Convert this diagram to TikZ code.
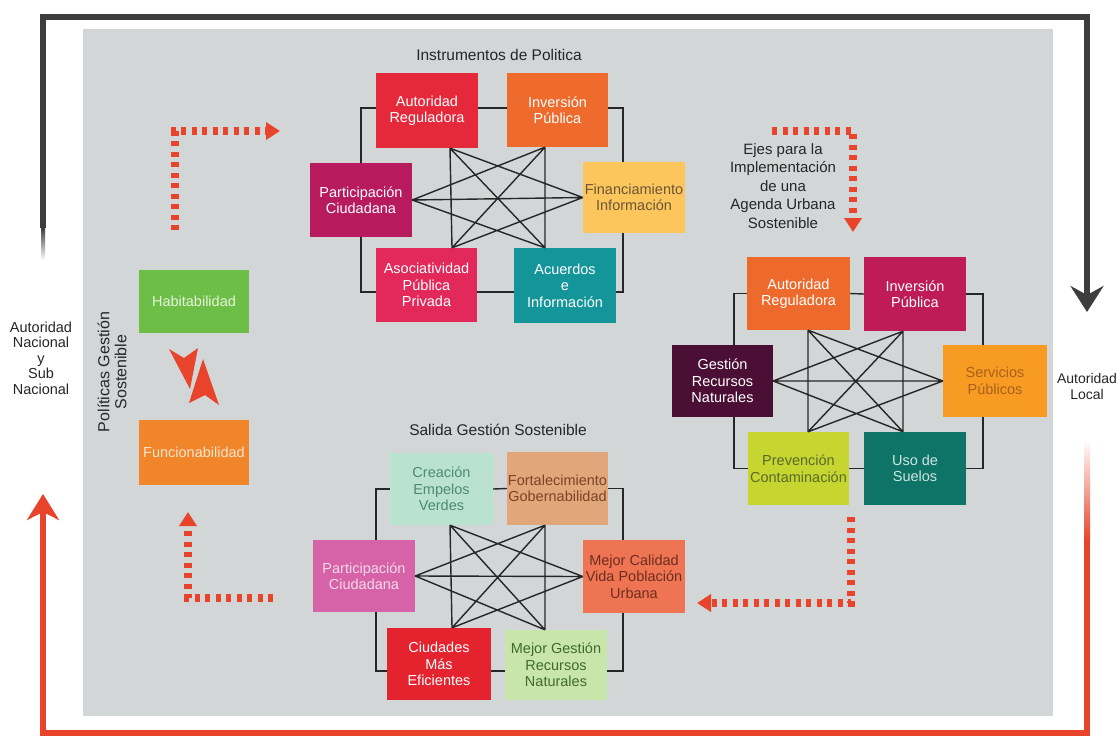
\documentclass[tikz,border=0pt]{standalone}
\usepackage{fontspec}
\setmainfont{Liberation Sans}
\usetikzlibrary{arrows.meta}
\definecolor{panel}{HTML}{D3D6D7}
\definecolor{darkf}{HTML}{3D3D3D}
\definecolor{arrred}{HTML}{E8442B}
\definecolor{cTa}{HTML}{E5283A}
\definecolor{cTb}{HTML}{EE6B2D}
\definecolor{cTc}{HTML}{B71B5E}
\definecolor{cTd}{HTML}{FCC65C}
\definecolor{cTe}{HTML}{E3285A}
\definecolor{cTf}{HTML}{14959A}
\definecolor{cRa}{HTML}{EE6A2C}
\definecolor{cRb}{HTML}{BF1B56}
\definecolor{cRc}{HTML}{4B0F35}
\definecolor{cRd}{HTML}{F89B23}
\definecolor{cRe}{HTML}{C6D530}
\definecolor{cRf}{HTML}{0E7468}
\definecolor{cBa}{HTML}{B9E3D0}
\definecolor{cBb}{HTML}{E2A67B}
\definecolor{cBc}{HTML}{D662A8}
\definecolor{cBd}{HTML}{EF7453}
\definecolor{cBe}{HTML}{E4232F}
\definecolor{cBf}{HTML}{C8E6A9}
\definecolor{cHab}{HTML}{6DBE46}
\definecolor{cFun}{HTML}{F0852A}
\definecolor{xTd}{HTML}{6A5638}
\definecolor{xRd}{HTML}{A8601C}
\definecolor{xRe}{HTML}{5C6A2A}
\definecolor{xRf}{HTML}{CFE5E1}
\definecolor{xBa}{HTML}{4E8A72}
\definecolor{xBb}{HTML}{7A4524}
\definecolor{xBc}{HTML}{F5D8EA}
\definecolor{xBd}{HTML}{6E2E1E}
\definecolor{xBf}{HTML}{3F6B2C}
\definecolor{xHab}{HTML}{E6F3DC}
\definecolor{xFun}{HTML}{FCE4CF}
\newcommand\mystar[6]{%
  \draw[conn] (#1)--(#5) (#2)--(#6) (#3)--(#4) (#1)--(#6) (#2)--(#5)
              (#3)--(#2) (#3)--(#6) (#4)--(#1) (#4)--(#5);}
\begin{document}
\begin{tikzpicture}[x=1pt,y=-1pt,
  bx/.style={rectangle, inner sep=0pt, align=center, text=white,
             font=\fontsize{14.5}{16.5}\selectfont},
  sz/.style 2 args={minimum width=#1pt, minimum height=#2pt},
  conn/.style={draw=black!85, line width=1.4pt},
  ttl/.style={align=center, text=black!85, font=\fontsize{15.5}{18.5}\selectfont},
  dotarrow/.style={draw=arrred, line width=8pt, dash pattern=on 5pt off 5.5pt,
                   -{Triangle[width=17pt,length=14pt]}},
  kite/.style={fill=arrred},
]
\useasboundingbox (0,0) rectangle (1118,739);
\fill[white] (0,0) rectangle (1118,739);
\fill[panel] (83,29) rectangle (1053,716);

% ---------- outer frames ----------
\coordinate (dA) at (43,228);
\coordinate (dB) at (43,17);
\coordinate (dC) at (1087,17);
\coordinate (dD) at (1087,312);
\shade[top color=darkf, bottom color=white] (41,228) rectangle (45,260);
\draw[darkf, line width=5.5pt, line join=miter, -{Stealth[width=33pt,length=26pt,inset=9pt]}]
  (dA) -- (dB) -- (dC) -- (dD);

\coordinate (rA) at (1087,540);
\coordinate (rB) at (1087,733);
\coordinate (rC) at (43,733);
\coordinate (rD) at (43,494);
\shade[top color=white, bottom color=arrred] (1084,440) rectangle (1090,540);
\draw[arrred, line width=6pt, line join=miter, -{Stealth[width=32pt,length=26pt,inset=8pt]}]
  (rA) -- (rB) -- (rC) -- (rD);

\node[ttl, font=\fontsize{14.5}{15.5}\selectfont] (nac) at (41,358) {Autoridad\\Nacional\\y\\Sub\\Nacional};
\node[ttl, font=\fontsize{14}{16}\selectfont] (loc) at (1087,386) {Autoridad\\Local};

% ---------- top cluster ----------
\node[ttl] (tt) at (499,55) {Instrumentos de Politica};
\node[bx, fill=cTa, sz={102}{75}] (t1) at (427,110.5) {Autoridad\\Reguladora};
\node[bx, fill=cTb, sz={101}{74}] (t2) at (557.5,110) {Inversión\\Pública};
\node[bx, fill=cTc, sz={102}{74}] (t3) at (361,200) {Participación\\Ciudadana};
\node[bx, fill=cTd, sz={102}{71}, text=xTd] (t4) at (634,197.5) {Financiamiento\\Información};
\node[bx, fill=cTe, sz={101}{74}] (t5) at (426.5,285) {Asociatividad\\Pública\\Privada};
\node[bx, fill=cTf, sz={102}{75}] (t6) at (565,285.5) {Acuerdos\\e\\Información};

% ---------- right cluster ----------
\node[ttl, font=\fontsize{15}{18.6}\selectfont] (rt) at (783,186) {Ejes para la\\Implementación\\de una\\Agenda Urbana\\Sostenible};
\node[bx, fill=cRa, sz={103}{73}] (r1) at (798.5,293.5) {Autoridad\\Reguladora};
\node[bx, fill=cRb, sz={102}{74}] (r2) at (915,294) {Inversión\\Pública};
\node[bx, fill=cRc, sz={101}{72}] (r3) at (722.5,381) {Gestión\\Recursos\\Naturales};
\node[bx, fill=cRd, sz={104}{72}, text=xRd] (r4) at (995,381) {Servicios\\Públicos};
\node[bx, fill=cRe, sz={101}{73}, text=xRe] (r5) at (798.5,468.5) {Prevención\\Contaminación};
\node[bx, fill=cRf, sz={102}{73}, text=xRf] (r6) at (915,468.5) {Uso de\\Suelos};

% ---------- bottom cluster ----------
\node[ttl] (bt) at (498,430) {Salida Gestión Sostenible};
\node[bx, fill=cBa, sz={103}{72}, text=xBa] (b1) at (441.5,489) {Creación\\Empelos\\Verdes};
\node[bx, fill=cBb, sz={101}{73}, text=xBb] (b2) at (557.5,488.5) {Fortalecimiento\\Gobernabilidad};
\node[bx, fill=cBc, sz={102}{72}, text=xBc] (b3) at (364,576) {Participación\\Ciudadana};
\node[bx, fill=cBd, sz={102}{73}, text=xBd] (b4) at (634,576.5) {Mejor Calidad\\Vida Población\\Urbana};
\node[bx, fill=cBe, sz={104}{72}] (b5) at (439,664) {Ciudades\\Más\\Eficientes};
\node[bx, fill=cBf, sz={102}{70}, text=xBf] (b6) at (556,665) {Mejor Gestión\\Recursos\\Naturales};

% ---------- bracket connectors ----------
\draw[conn] (t3.north) |- ([yshift=2.5pt]t1.west);
\draw[conn] ([yshift=2.5pt]t1.east) -- ([yshift=2pt]t2.west);
\draw[conn] ([yshift=2pt]t2.east) -| ([xshift=-11pt]t4.north);
\draw[conn] ([xshift=-11pt]t4.south) |- ([yshift=-6.5pt]t6.east);
\draw[conn] ([yshift=-6.5pt]t6.west) -- ([yshift=-7pt]t5.east);
\draw[conn] ([yshift=-7pt]t5.west) -| (t3.south);

\draw[conn] ([xshift=11.5pt]r3.north) |- (r1.west);
\draw[conn] (r1.east) -- (r2.west);
\draw[conn] (r2.east) -| ([xshift=-12pt]r4.north);
\draw[conn] ([xshift=-12pt]r4.south) |- (r6.east);
\draw[conn] (r6.west) -- (r5.east);
\draw[conn] (r5.west) -| ([xshift=11.5pt]r3.south);

\draw[conn] ([xshift=12pt]b3.north) |- (b1.west);
\draw[conn] (b1.east) -- (b2.west);
\draw[conn] (b2.east) -| ([xshift=-11pt]b4.north);
\draw[conn] ([xshift=-11pt]b4.south) |- ([yshift=-6pt]b6.east);
\draw[conn] ([yshift=-6pt]b6.west) -- ([yshift=-7pt]b5.east);
\draw[conn] ([yshift=-7pt]b5.west) -| ([xshift=12pt]b3.south);

% ---------- star connectors ----------
\coordinate (tTL) at ([xshift=23pt]t1.south);
\coordinate (tTR) at ([xshift=-12.5pt]t2.south);
\coordinate (tL) at (t3.east);
\coordinate (tR) at (t4.west);
\coordinate (tBL) at ([xshift=25.5pt]t5.north);
\coordinate (tBR) at ([xshift=-20pt]t6.north);
\mystar{tTL}{tTR}{tL}{tR}{tBL}{tBR}

\coordinate (rTL) at ([xshift=9.5pt]r1.south);
\coordinate (rTR) at ([xshift=-12pt]r2.south);
\coordinate (rL) at (r3.east);
\coordinate (rR) at (r4.west);
\coordinate (rBL) at ([xshift=9.5pt]r5.north);
\coordinate (rBR) at ([xshift=-12pt]r6.north);
\mystar{rTL}{rTR}{rL}{rR}{rBL}{rBR}

\coordinate (bTL) at ([xshift=8.5pt]b1.south);
\coordinate (bTR) at ([xshift=-12.5pt]b2.south);
\coordinate (bL) at (b3.east);
\coordinate (bR) at (b4.west);
\coordinate (bBL) at ([xshift=13pt]b5.north);
\coordinate (bBR) at ([xshift=-11pt]b6.north);
\mystar{bTL}{bTR}{bL}{bR}{bBL}{bBR}

% ---------- left column ----------
\node[ttl, rotate=90, font=\fontsize{16}{17}\selectfont] (pol) at (112,372) {Políticas Gestión\\Sostenible};
\node[bx, fill=cHab, sz={110}{63}, text=xHab] (hab) at (194,301.5) {Habitabilidad};
\node[bx, fill=cFun, sz={110}{65}, text=xFun] (fun) at (194,452.5) {Funcionabilidad};
\fill[kite] (169,349) -- (184,358) -- (198,348) -- (190,389) -- cycle;
\fill[kite] (203,359) -- (219,405) -- (205,395) -- (189,403) -- cycle;

% ---------- dotted arrows ----------
\coordinate (aS1) at (175,230); \coordinate (aC1) at (175,131); \coordinate (aE1) at (280,131);
\draw[dotarrow] (aS1) -- (aC1) -- (aE1);
\coordinate (aS2) at (772,131); \coordinate (aC2) at (853,131); \coordinate (aE2) at (853,232);
\draw[dotarrow] (aS2) -- (aC2) -- (aE2);
\coordinate (aS3) at (851,517); \coordinate (aC3) at (851,603); \coordinate (aE3) at (697,603);
\draw[dotarrow] (aS3) -- (aC3) -- (aE3);
\coordinate (aS4) at (273,598); \coordinate (aC4) at (188,598); \coordinate (aE4) at (188,512);
\draw[dotarrow] (aS4) -- (aC4) -- (aE4);
\end{tikzpicture}
\end{document}
